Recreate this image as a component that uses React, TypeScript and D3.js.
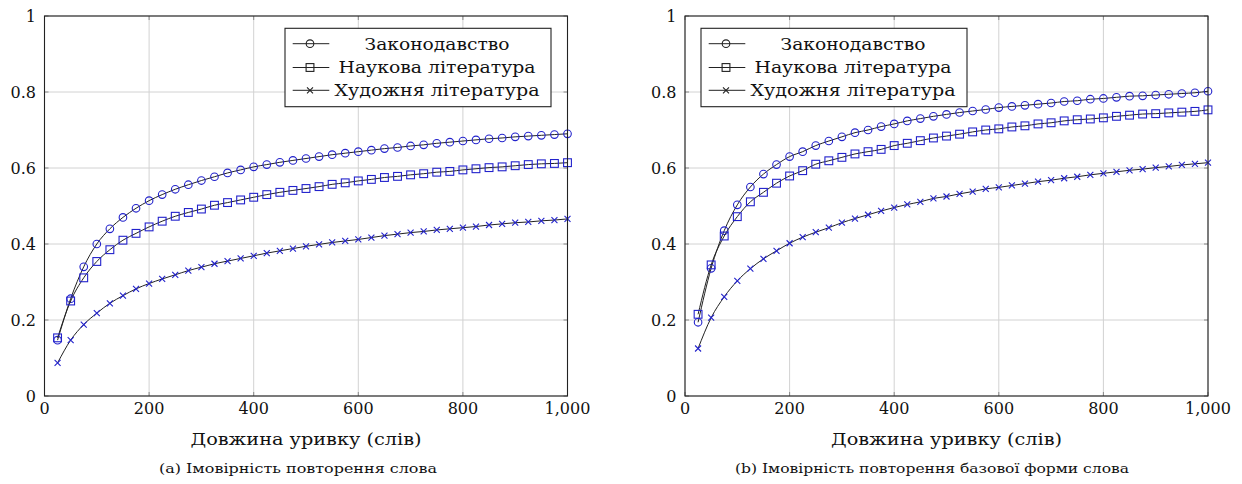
import React from 'react';
import * as d3 from 'd3';

// passage length (words), one point every 25 words
const lengths = [
  25, 50, 75, 100, 125, 150, 175, 200, 225, 250, 275, 300, 325, 350, 375, 400, 425, 450, 475, 500,
  525, 550, 575, 600, 625, 650, 675, 700, 725, 750, 775, 800, 825, 850, 875, 900, 925, 950, 975, 1000,
];

const seriesNames = ['Законодавство', 'Наукова література', 'Художня література'];
const seriesMarks = ['circle', 'square', 'cross'];

// (a) word repetition probability
const lawA = [0.147, 0.256, 0.340, 0.400, 0.440, 0.470, 0.494, 0.514, 0.530, 0.544, 0.556, 0.567, 0.577, 0.587, 0.595, 0.603, 0.609, 0.615, 0.620, 0.625, 0.630, 0.635, 0.639, 0.643, 0.647, 0.651, 0.654, 0.658, 0.661, 0.665, 0.668, 0.671, 0.674, 0.677, 0.679, 0.682, 0.684, 0.686, 0.688, 0.690];
const sciA = [0.153, 0.250, 0.311, 0.354, 0.385, 0.410, 0.428, 0.445, 0.460, 0.473, 0.483, 0.492, 0.502, 0.509, 0.516, 0.523, 0.530, 0.536, 0.541, 0.546, 0.551, 0.557, 0.561, 0.566, 0.570, 0.575, 0.578, 0.582, 0.585, 0.589, 0.591, 0.595, 0.598, 0.601, 0.603, 0.606, 0.609, 0.611, 0.612, 0.614];
const ficA = [0.087, 0.147, 0.188, 0.218, 0.244, 0.264, 0.282, 0.296, 0.308, 0.319, 0.330, 0.339, 0.348, 0.355, 0.362, 0.369, 0.376, 0.382, 0.388, 0.394, 0.399, 0.404, 0.408, 0.412, 0.417, 0.422, 0.426, 0.430, 0.433, 0.437, 0.440, 0.443, 0.446, 0.450, 0.453, 0.456, 0.458, 0.461, 0.463, 0.466];

// (b) base-form repetition probability
const lawB = [0.194, 0.336, 0.435, 0.503, 0.550, 0.584, 0.609, 0.630, 0.643, 0.659, 0.671, 0.682, 0.693, 0.700, 0.709, 0.716, 0.724, 0.730, 0.736, 0.741, 0.746, 0.750, 0.754, 0.759, 0.762, 0.765, 0.768, 0.771, 0.775, 0.777, 0.781, 0.783, 0.786, 0.789, 0.790, 0.792, 0.794, 0.796, 0.798, 0.802];
const sciB = [0.215, 0.345, 0.421, 0.472, 0.511, 0.536, 0.560, 0.579, 0.593, 0.610, 0.619, 0.628, 0.637, 0.643, 0.649, 0.659, 0.665, 0.672, 0.679, 0.684, 0.689, 0.695, 0.700, 0.703, 0.708, 0.711, 0.716, 0.719, 0.724, 0.727, 0.729, 0.732, 0.736, 0.739, 0.742, 0.743, 0.745, 0.747, 0.749, 0.753];
const ficB = [0.125, 0.206, 0.261, 0.303, 0.335, 0.361, 0.382, 0.402, 0.418, 0.431, 0.443, 0.456, 0.467, 0.477, 0.487, 0.496, 0.504, 0.511, 0.520, 0.525, 0.532, 0.538, 0.545, 0.549, 0.554, 0.559, 0.564, 0.568, 0.573, 0.577, 0.582, 0.586, 0.590, 0.594, 0.597, 0.601, 0.604, 0.608, 0.611, 0.614];

const xTicks = [0, 200, 400, 600, 800, 1000];
const yTicks = [0, 0.2, 0.4, 0.6, 0.8, 1];
const xLabel = 'Довжина уривку (слів)';
const captionA = '(a) Імовірність повторення слова';
const captionB = '(b) Імовірність повторення базової форми слова';

const W = 1242;
const H = 484;
const FONT = '"DejaVu Serif", serif';
const MARK = '#2222cc';

function Mark({ type, x, y, color }: { type: string; x: number; y: number; color: string }) {
  if (type === 'circle') {
    return <circle cx={x} cy={y} r={3.8} fill="none" stroke={color} strokeWidth={1.1} />;
  }
  if (type === 'square') {
    return <rect x={x - 3.9} y={y - 3.9} width={7.8} height={7.8} fill="none" stroke={color} strokeWidth={1.1} />;
  }
  const s = 3;
  return (
    <path d={`M${x - s},${y - s}L${x + s},${y + s}M${x - s},${y + s}L${x + s},${y - s}`} stroke={color} strokeWidth={1.1} />
  );
}

function Panel({ left, series, legendX, caption, captionX, captionLen }: any) {
  const top = 16;
  const bottom = 396;
  const right = left + 523;
  const x = d3.scaleLinear().domain([0, 1000]).range([left, right]);
  const y = d3.scaleLinear().domain([0, 1]).range([bottom, top]);
  const line = d3
    .line<number>()
    .x((d, i) => x(lengths[i]))
    .y((d) => y(d))
    .curve(d3.curveMonotoneX);
  const fmtX = d3.format(',');
  const legendY = 28.3;
  const rows = [15.4, 39.2, 62];

  return (
    <g>
      {/* grid */}
      {xTicks.map((t) => (
        <line key={'gx' + t} x1={x(t)} x2={x(t)} y1={top} y2={bottom} stroke="#d2d2d2" strokeWidth={1} />
      ))}
      {yTicks.map((t) => (
        <line key={'gy' + t} x1={left} x2={right} y1={y(t)} y2={y(t)} stroke="#d2d2d2" strokeWidth={1} />
      ))}
      {/* small inner ticks */}
      {xTicks.map((t) => (
        <g key={'tx' + t} stroke="#8a8a8a" strokeWidth={1}>
          <line x1={x(t)} x2={x(t)} y1={bottom} y2={bottom - 4} />
          <line x1={x(t)} x2={x(t)} y1={top} y2={top + 4} />
        </g>
      ))}
      {yTicks.map((t) => (
        <g key={'ty' + t} stroke="#8a8a8a" strokeWidth={1}>
          <line x1={left} x2={left + 4} y1={y(t)} y2={y(t)} />
          <line x1={right} x2={right - 4} y1={y(t)} y2={y(t)} />
        </g>
      ))}

      {/* series */}
      {series.map((vals: number[], si: number) => (
        <g key={'s' + si}>
          <path d={line(vals) || ''} fill="none" stroke="#222" strokeWidth={1} />
          {vals.map((v, i) => (
            <Mark key={i} type={seriesMarks[si]} x={x(lengths[i])} y={y(v)} color={MARK} />
          ))}
        </g>
      ))}

      {/* frame */}
      <rect x={left} y={top} width={right - left} height={bottom - top} fill="none" stroke="#222" strokeWidth={1.1} />

      {/* tick labels */}
      {xTicks.map((t) => (
        <text key={'lx' + t} x={x(t)} y={414} textAnchor="middle" fontFamily={FONT} fontSize={16} fill="#111">
          {fmtX(t)}
        </text>
      ))}
      {yTicks.map((t) => (
        <text key={'ly' + t} x={left - 8.5} y={y(t) + 6} textAnchor="end" fontFamily={FONT} fontSize={16} fill="#111">
          {String(t)}
        </text>
      ))}

      {/* axis label */}
      <text x={(left + right) / 2} y={445} textAnchor="middle" fontFamily={FONT} fontSize={17} fill="#111"
        textLength={231} lengthAdjust="spacingAndGlyphs">
        {xLabel}
      </text>

      {/* legend */}
      <g transform={`translate(${legendX},${legendY})`}>
        <rect x={0} y={0} width={266} height={78.4} fill="#fff" stroke="#222" strokeWidth={1.1} />
        {seriesNames.map((name, i) => (
          <g key={name}>
            <line x1={7.7} x2={44.3} y1={rows[i]} y2={rows[i]} stroke="#222" strokeWidth={1} />
            <Mark type={seriesMarks[i]} x={25} y={rows[i]} color="#222" />
            <text x={152} y={rows[i] + 6} textAnchor="middle" fontFamily={FONT} fontSize={17} fill="#111"
              textLength={[145, 197, 205][i]} lengthAdjust="spacingAndGlyphs">
              {name}
            </text>
          </g>
        ))}
      </g>

      {/* caption */}
      <text x={captionX} y={473} textAnchor="middle" fontFamily={FONT} fontSize={13.5} fill="#111"
        textLength={captionLen} lengthAdjust="spacingAndGlyphs">
        {caption}
      </text>
    </g>
  );
}

export default function App() {
  return (
    <svg width={W} height={H} style={{ position: 'absolute', left: 0, top: 0, display: 'block', background: '#fff' }}>
      <rect width={W} height={H} fill="#fff" />
      <Panel left={44.5} series={[lawA, sciA, ficA]} legendX={285} caption={captionA} captionX={298} captionLen={278} />
      <Panel left={685} series={[lawB, sciB, ficB]} legendX={701} caption={captionB} captionX={932} captionLen={394} />
    </svg>
  );
}
